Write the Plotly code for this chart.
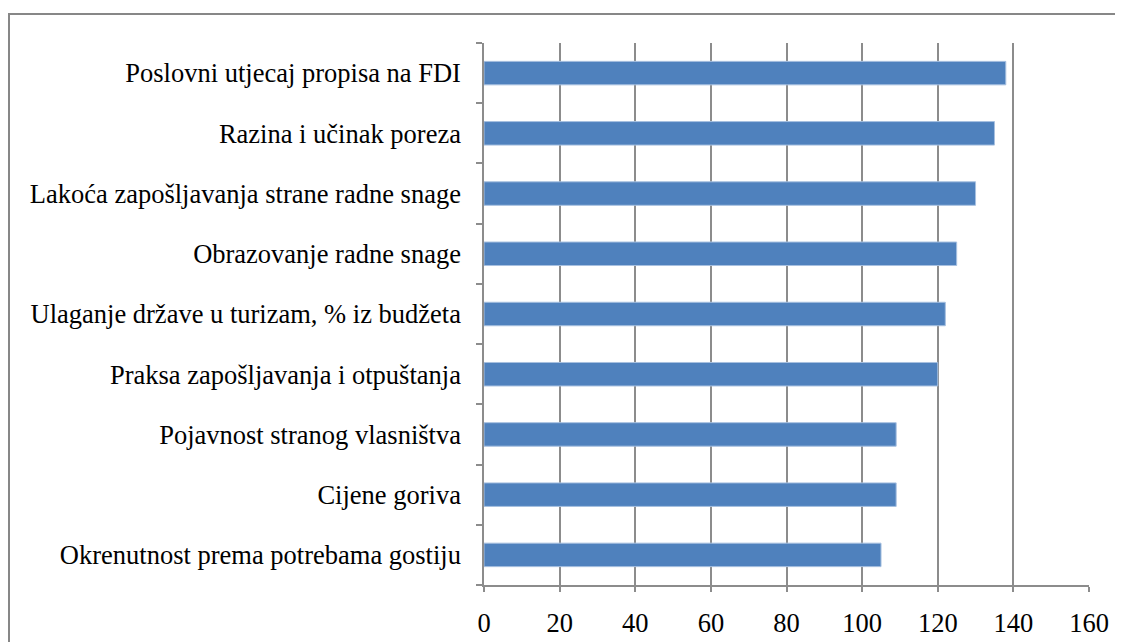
import plotly.graph_objects as go

categories = [
    "Okrenutnost prema potrebama gostiju",
    "Cijene goriva",
    "Pojavnost stranog vlasništva",
    "Praksa zapošljavanja i otpuštanja",
    "Ulaganje države u turizam, % iz budžeta",
    "Obrazovanje radne snage",
    "Lakoća zapošljavanja strane radne snage",
    "Razina i učinak poreza",
    "Poslovni utjecaj propisa na FDI",
]
values = [105, 109, 109, 120, 122, 125, 130, 135, 138]
x_ticks = [0, 20, 40, 60, 80, 100, 120, 140, 160]

W, H = 1123, 642
OFF = 8  # default page body margin
L, R, T, B = 484 - OFF, 34 + OFF, 43 - OFF, 57 + OFF
pw, ph = W - L - R, H - T - B

fig = go.Figure(go.Bar(
    y=categories, x=values, orientation="h",
    marker=dict(color="#4F81BD", line=dict(color="#A7C0E0", width=1)),
    width=0.39,
))

FONT = "Liberation Serif"

fig.update_layout(
    width=W, height=H,
    margin=dict(l=L, r=R, t=T, b=B),
    paper_bgcolor="white", plot_bgcolor="white",
    font=dict(family=FONT, size=26.5, color="black"),
    showlegend=False,
    xaxis=dict(
        range=[0, 160], tickvals=x_ticks, ticktext=[str(v) for v in x_ticks],
        showgrid=True, gridcolor="#8C8C8C", gridwidth=1.5,
        showline=True, linecolor="#8C8C8C", linewidth=1.5,
        ticks="outside", ticklen=5, tickcolor="#8C8C8C", tickwidth=1.5,
        zeroline=False, ticklabelstandoff=8,
        tickfont=dict(family=FONT, size=26.5),
    ),
    yaxis=dict(
        categoryorder="array", categoryarray=categories,
        range=[-0.5, len(categories) - 0.5],
        showgrid=False, zeroline=False,
        showline=True, linecolor="#8C8C8C", linewidth=1.5,
        ticks="outside", ticklen=6, tickcolor="#8C8C8C", tickwidth=1.5,
        tickson="boundaries", ticklabelstandoff=16,
        tickfont=dict(family=FONT, size=26.5),
    ),
    shapes=[dict(
        type="rect", xref="paper", yref="paper",
        x0=(9 - OFF - L) / pw, x1=(1140 - OFF - L) / pw,
        y0=(H - 660 - B) / ph, y1=(H - (14 - OFF) - B) / ph,
        line=dict(color="#878787", width=2), fillcolor="rgba(0,0,0,0)",
        layer="below",
    )],
)

fig.write_html("out.html")
